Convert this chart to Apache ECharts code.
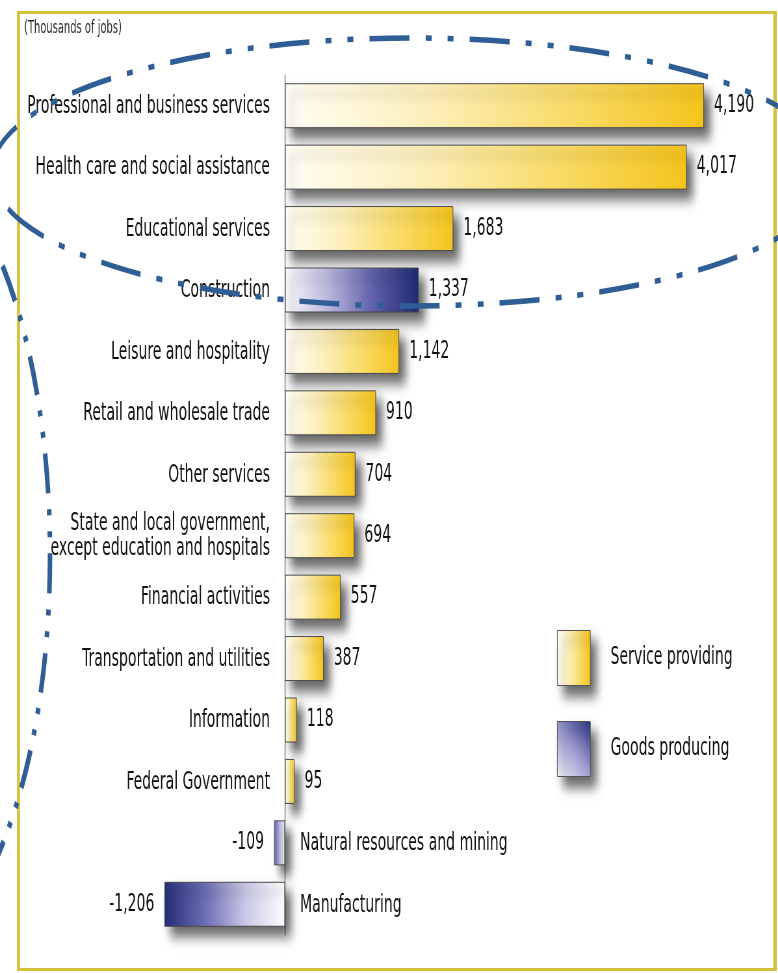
<!DOCTYPE html>
<html>
<head>
<meta charset="utf-8">
<script src="https://cdn.jsdelivr.net/npm/echarts@6/dist/echarts.min.js"></script>
<style>
  html, body { margin: 0; padding: 0; background: #ffffff; overflow: hidden; width: 778px; height: 973px; }
  #chart { height: 973px; transform-origin: 0 0; }
</style>
</head>
<body>
<div id="chart"></div>
<script>
// ---- Data ----
const categories = [
  'Professional and business services',
  'Health care and social assistance',
  'Educational services',
  'Construction',
  'Leisure and hospitality',
  'Retail and wholesale trade',
  'Other services',
  'State and local government,\nexcept education and hospitals',
  'Financial activities',
  'Transportation and utilities',
  'Information',
  'Federal Government',
  'Natural resources and mining',
  'Manufacturing'
];
const values = [4190, 4017, 1683, 1337, 1142, 910, 704, 694, 557, 387, 118, 95, -109, -1206];
const sectors = ['S', 'S', 'S', 'G', 'S', 'S', 'S', 'S', 'S', 'S', 'S', 'S', 'G', 'G'];
const sectorNames = { S: 'Service providing', G: 'Goods producing' };
const unitLabel = '(Thousands of jobs)';

// ---- Layout: the chart is drawn horizontally condensed to mimic a condensed typeface ----
const S = 0.65;                 // horizontal condensing factor
const X = x => x / S;           // convert a screen x-distance to chart space
const el = document.getElementById('chart');
el.style.width = X(778) + 'px';
el.style.transform = 'scaleX(' + S + ')';

// ---- Styles ----
const FONT = '"DejaVu Sans Condensed", "Liberation Sans", sans-serif';
const lin = (x, y, x2, y2, stops) => new echarts.graphic.LinearGradient(x, y, x2, y2,
  stops.map((c, i) => ({ offset: i / (stops.length - 1), color: c })));
const gold = () => lin(0, 0, 1, 0, ['#fffef6', '#fdf0bd', '#f9dc6a', '#f5c41c']);
const navyPos = () => lin(0, 0, 1, 0, ['#fbfafd', '#b7b5dc', '#5d5fa8', '#202a72']);
const navyNeg = (small) => small
  ? lin(0, 0, 1, 0, ['#5c60a8', '#b9b7de', '#f3f2fa'])
  : lin(0, 0, 1, 0, ['#262e7a', '#6b6db3', '#c9c7e6', '#ffffff']);
const shadow = { shadowBlur: 12, shadowColor: 'rgba(0,0,0,0.6)', shadowOffsetX: X(6), shadowOffsetY: 10 };
const fmt = v => (v < 0 ? '-' : '') + String(Math.abs(v)).replace(/\B(?=(\d{3})+(?!\d))/g, ',');
const INK = '#111111';
const ANNOT = '#2f5d95';

function barItem(v, i, key) {
  if (sectors[i] !== key) return '-';
  let color;
  if (key === 'S') color = gold();
  else color = v >= 0 ? navyPos() : navyNeg(Math.abs(v) < 500);
  return {
    value: v,
    itemStyle: Object.assign({ color, borderColor: '#4a4a4a', borderWidth: 1 }, shadow),
    label: { position: v >= 0 ? 'right' : 'left' }
  };
}

const barLabel = {
  show: true, distance: X(10), fontFamily: FONT, fontSize: 24, color: INK,
  formatter: p => fmt(p.value)
};

const chart = echarts.init(el, null, { renderer: 'canvas' });
chart.setOption({
  animation: false,
  backgroundColor: '#ffffff',
  title: {
    text: unitLabel, left: X(24), top: 20, padding: 0,
    textStyle: { fontFamily: FONT, fontSize: 17, fontWeight: 'normal', color: '#2a2a2a' }
  },
  grid: { left: X(85), width: X(680), top: 75, bottom: 38, containLabel: false },
  xAxis: {
    type: 'value', min: -2000, max: 4800,
    axisLine: { show: false }, axisTick: { show: false },
    axisLabel: { show: false }, splitLine: { show: false }
  },
  yAxis: {
    type: 'category', data: categories, inverse: true,
    axisLine: { show: true, onZero: true, lineStyle: { color: '#333', width: 1 } },
    axisTick: { show: false }, axisLabel: { show: false }
  },
  legend: {
    orient: 'vertical', left: X(557), top: 630, padding: 0,
    itemWidth: X(33), itemHeight: 55, itemGap: 35,
    selectedMode: false, icon: 'rect',
    textStyle: { fontFamily: FONT, fontSize: 24, color: INK, padding: [2, 0, 0, X(17)] },
    data: [
      { name: sectorNames.S, itemStyle: Object.assign({ color: gold(), borderColor: '#555', borderWidth: 1 }, shadow) },
      { name: sectorNames.G, itemStyle: Object.assign({ color: lin(0, 1, 1, 0, ['#f4f3fb', '#9d9bd0', '#2a3380']), borderColor: '#555', borderWidth: 1 }, shadow) }
    ]
  },
  series: [
    {
      name: sectorNames.S, type: 'bar', barWidth: 45, barGap: '-100%',
      itemStyle: { color: '#f5c41c' },
      label: barLabel,
      data: values.map((v, i) => barItem(v, i, 'S'))
    },
    {
      name: sectorNames.G, type: 'bar', barWidth: 45, barGap: '-100%',
      itemStyle: { color: '#2a3380' },
      label: barLabel,
      data: values.map((v, i) => barItem(v, i, 'G'))
    },
    {
      name: 'labels', type: 'scatter', symbolSize: 0, silent: true, z: 5,
      itemStyle: { opacity: 1 },
      data: categories.map((c, i) => ({
        value: [0, i],
        label: { position: values[i] < 0 ? 'right' : 'left' }
      })),
      label: {
        show: true, distance: X(15), fontFamily: FONT, fontSize: 24, color: INK, lineHeight: 25,
        offset: [0, 1],
        formatter: p => categories[p.value[1]]
      }
    }
  ],
  graphic: [
    // yellow frame
    { type: 'line', z: 100, silent: true, shape: { x1: X(17), y1: 12.5, x2: X(776), y2: 12.5 }, style: { stroke: '#d5c13c', lineWidth: 3 } },
    { type: 'line', z: 100, silent: true, shape: { x1: X(17), y1: 969.5, x2: X(776), y2: 969.5 }, style: { stroke: '#d5c13c', lineWidth: 3 } },
    { type: 'line', z: 100, silent: true, shape: { x1: X(18.5), y1: 11, x2: X(18.5), y2: 971 }, style: { stroke: '#d5c13c', lineWidth: X(3) } },
    { type: 'line', z: 100, silent: true, shape: { x1: X(775), y1: 11, x2: X(775), y2: 971 }, style: { stroke: '#d5c13c', lineWidth: X(3.5) } },
    // hand-drawn dash-dot annotations
    {
      type: 'ellipse', z: 110, silent: true,
      shape: { cx: X(412), cy: 172, rx: X(420), ry: 134 },
      style: { fill: 'none', stroke: ANNOT, lineWidth: 5.5, lineDash: [X(40), X(16), X(6), X(16), X(6), X(16)] }
    },
    {
      type: 'ellipse', z: 110, silent: true,
      shape: { cx: X(-100), cy: 555, rx: X(150), ry: 396 },
      style: { fill: 'none', stroke: ANNOT, lineWidth: 7, lineDash: [40, 16, 6, 16, 6, 16] }
    }
  ]
});
</script>
</body>
</html>
